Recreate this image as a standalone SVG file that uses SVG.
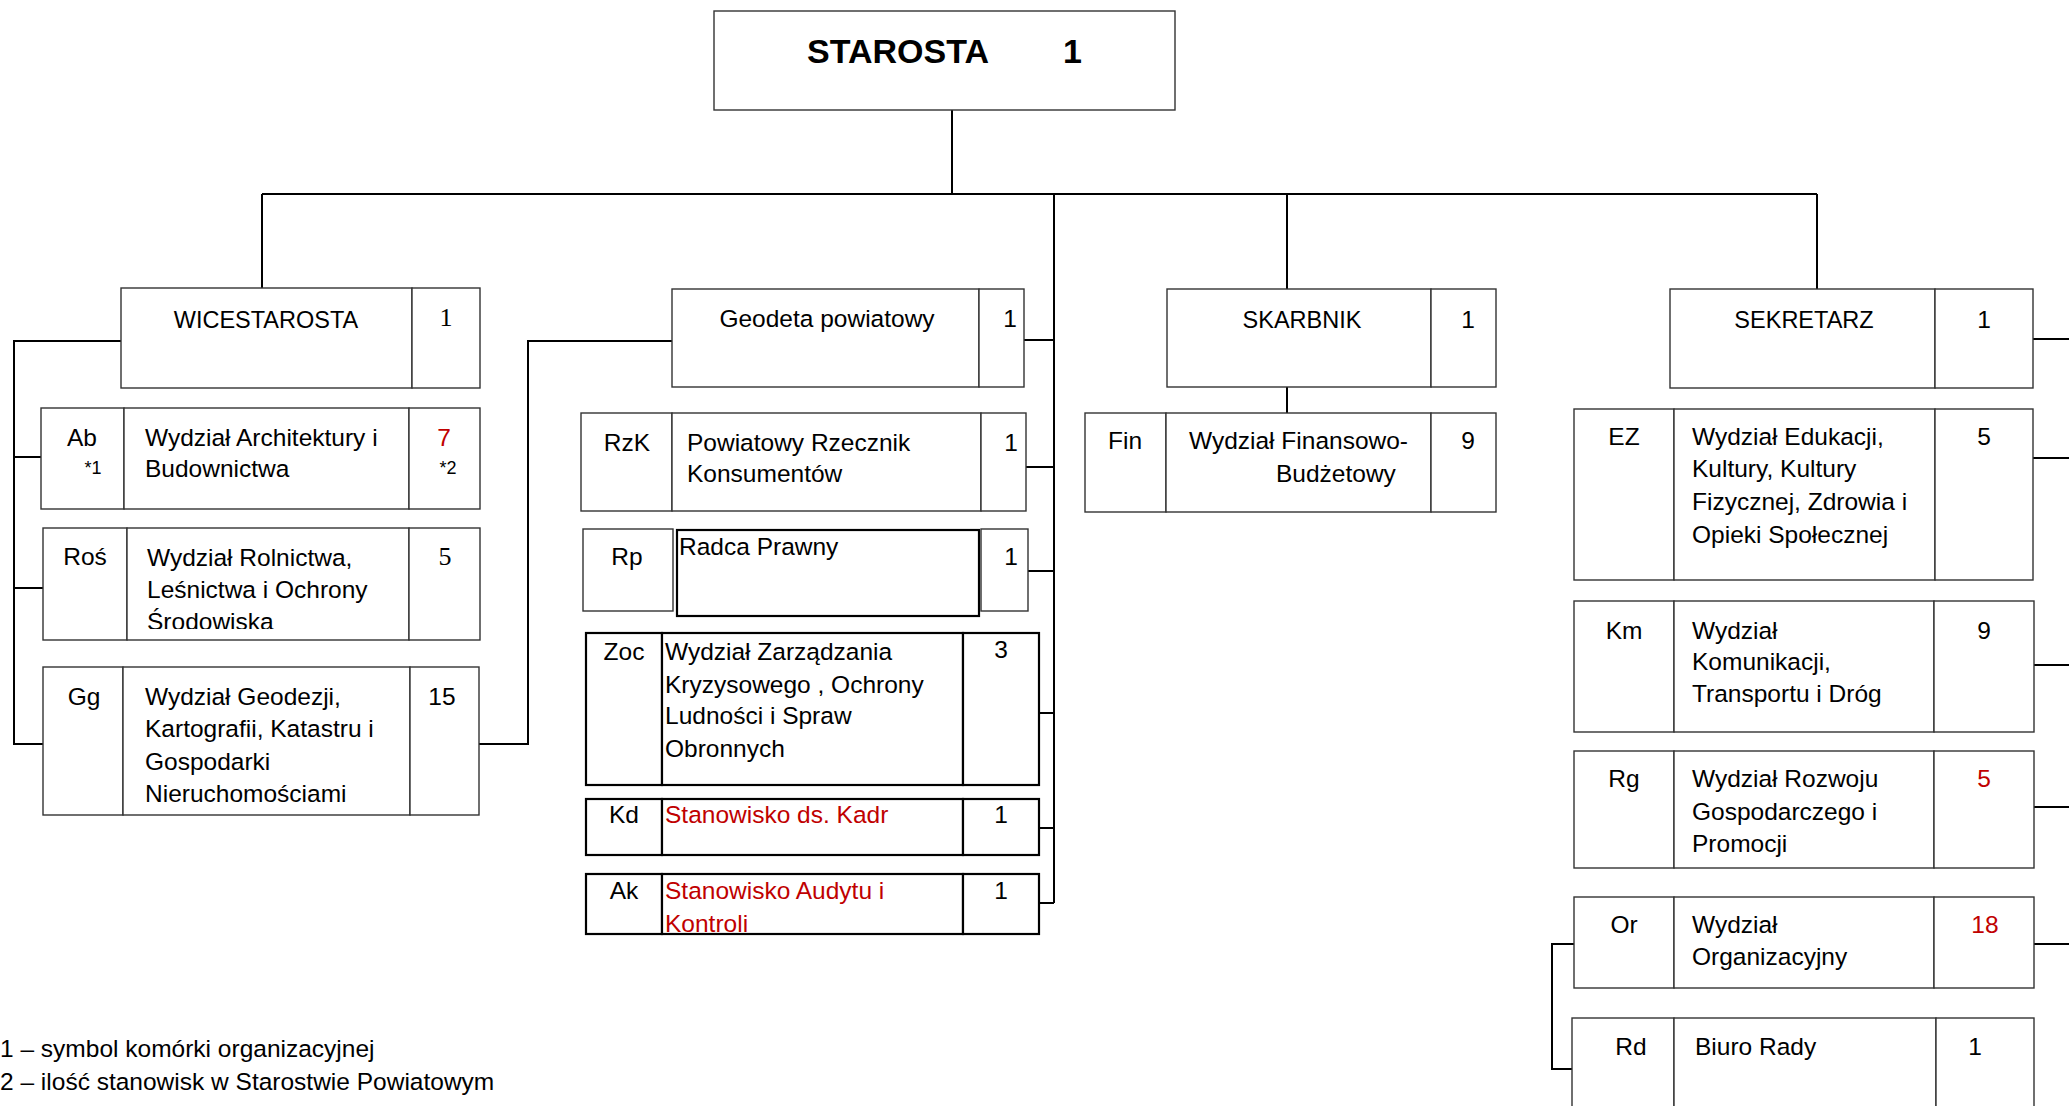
<svg xmlns="http://www.w3.org/2000/svg" width="2069" height="1106" viewBox="0 0 2069 1106">
<style>
text{font-family:"Liberation Sans",Arial,sans-serif;font-size:24.5px;fill:#000}
.c{text-anchor:middle}
.hd{font-size:23.5px}
.big{font-size:34px;font-weight:bold}
.sr{font-family:"Liberation Serif","Times New Roman",serif;font-size:26px}
.red{fill:#c00000}
.sm{font-size:18px}
.box{fill:#fff;stroke:#333;stroke-width:1.4}
.tb{fill:#fff;stroke:#000;stroke-width:2.2}
.con{fill:none;stroke:#000;stroke-width:2}
</style>
<defs>
<clipPath id="clipRos"><rect x="127" y="528" width="282" height="101"/></clipPath>
<clipPath id="clipAk"><rect x="662" y="874" width="301" height="58"/></clipPath>
</defs>
<rect width="2069" height="1106" fill="#fff"/>

<g id="connectors">
<path class="con" d="M952 110V194M262 194H1817M262 194V288M1054 194V903M1287 194V289M1287 387V413M1817 194V289"/>
<path class="con" d="M121 341H14V744H43M14 457H41M14 588H43"/>
<path class="con" d="M479 744H528V341H672"/>
<path class="con" d="M1024 340H1054M1026 467H1054M1028 571H1054M1039 713H1054M1039 828H1054M1039 903H1054"/>
<path class="con" d="M2033 339H2069M2033 458H2069M2034 665H2069M2034 807H2069M2034 944H2069"/>
<path class="con" d="M1574 944H1552V1069H1572"/>
</g>

<g id="starosta">
<rect class="box" x="714" y="11" width="461" height="99"/>
<text class="big" x="807" y="63">STAROSTA</text>
<text class="big" x="1063" y="63">1</text>
</g>

<g id="wicestarosta">
<rect class="box" x="121" y="288" width="291" height="100"/>
<rect class="box" x="412" y="288" width="68" height="100"/>
<text class="c hd" x="266" y="328">WICESTAROSTA</text>
<text class="c sr" x="446" y="326">1</text>
</g>

<g id="ab">
<rect class="box" x="41" y="408" width="83" height="101"/>
<rect class="box" x="124" y="408" width="285" height="101"/>
<rect class="box" x="409" y="408" width="71" height="101"/>
<text class="c" x="82" y="446">Ab</text>
<text class="c sm" x="93" y="474">*1</text>
<text x="145" y="446">Wydział Architektury i</text>
<text x="145" y="477">Budownictwa</text>
<text class="c red" x="444" y="446">7</text>
<text class="c sm" x="448" y="474">*2</text>
</g>

<g id="ros">
<rect class="box" x="43" y="528" width="84" height="112"/>
<rect class="box" x="127" y="528" width="282" height="112"/>
<rect class="box" x="409" y="528" width="71" height="112"/>
<text class="c" x="85" y="565">Roś</text>
<g clip-path="url(#clipRos)">
<text x="147" y="566">Wydział Rolnictwa,</text>
<text x="147" y="598">Leśnictwa i Ochrony</text>
<text x="147" y="630">Środowiska</text>
</g>
<text class="c sr" x="445" y="565">5</text>
</g>

<g id="gg">
<rect class="box" x="43" y="667" width="80" height="148"/>
<rect class="box" x="123" y="667" width="287" height="148"/>
<rect class="box" x="410" y="667" width="69" height="148"/>
<text class="c" x="84" y="705">Gg</text>
<text x="145" y="705">Wydział Geodezji,</text>
<text x="145" y="737">Kartografii, Katastru i</text>
<text x="145" y="770">Gospodarki</text>
<text x="145" y="802">Nieruchomościami</text>
<text class="c" x="442" y="705">15</text>
</g>

<g id="geodeta">
<rect class="box" x="672" y="289" width="307" height="98"/>
<rect class="box" x="979" y="289" width="45" height="98"/>
<text class="c" x="827" y="327">Geodeta powiatowy</text>
<text class="c" x="1010" y="327">1</text>
</g>

<g id="rzk">
<rect class="box" x="581" y="413" width="91" height="98"/>
<rect class="box" x="672" y="413" width="309" height="98"/>
<rect class="box" x="981" y="413" width="45" height="98"/>
<text class="c" x="627" y="451">RzK</text>
<text x="687" y="451">Powiatowy Rzecznik</text>
<text x="687" y="482">Konsumentów</text>
<text class="c" x="1011" y="451">1</text>
</g>

<g id="rp">
<rect class="box" x="583" y="529" width="90" height="82"/>
<rect class="tb" x="677" y="530" width="302" height="86"/>
<rect class="box" x="981" y="529" width="47" height="82"/>
<text class="c" x="627" y="565">Rp</text>
<text x="679" y="555">Radca Prawny</text>
<text class="c" x="1011" y="565">1</text>
</g>

<g id="zoc">
<rect class="tb" x="586" y="633" width="76" height="152"/>
<rect class="tb" x="662" y="633" width="301" height="152"/>
<rect class="tb" x="963" y="633" width="76" height="152"/>
<text class="c" x="624" y="660">Zoc</text>
<text x="665" y="660">Wydział Zarządzania</text>
<text x="665" y="693">Kryzysowego , Ochrony</text>
<text x="665" y="724">Ludności i Spraw</text>
<text x="665" y="757">Obronnych</text>
<text class="c" x="1001" y="658">3</text>
</g>

<g id="kd">
<rect class="tb" x="586" y="799" width="76" height="56"/>
<rect class="tb" x="662" y="799" width="301" height="56"/>
<rect class="tb" x="963" y="799" width="76" height="56"/>
<text class="c" x="624" y="823">Kd</text>
<text class="red" x="665" y="823">Stanowisko ds. Kadr</text>
<text class="c" x="1001" y="823">1</text>
</g>

<g id="ak">
<rect class="tb" x="586" y="874" width="76" height="60"/>
<rect class="tb" x="662" y="874" width="301" height="60"/>
<rect class="tb" x="963" y="874" width="76" height="60"/>
<text class="c" x="624" y="899">Ak</text>
<g clip-path="url(#clipAk)">
<text class="red" x="665" y="899">Stanowisko Audytu i</text>
<text class="red" x="665" y="932">Kontroli</text>
</g>
<text class="c" x="1001" y="899">1</text>
</g>

<g id="skarbnik">
<rect class="box" x="1167" y="289" width="264" height="98"/>
<rect class="box" x="1431" y="289" width="65" height="98"/>
<text class="c hd" x="1302" y="328">SKARBNIK</text>
<text class="c" x="1468" y="328">1</text>
</g>

<g id="fin">
<rect class="box" x="1085" y="413" width="81" height="99"/>
<rect class="box" x="1166" y="413" width="265" height="99"/>
<rect class="box" x="1431" y="413" width="65" height="99"/>
<text class="c" x="1125" y="449">Fin</text>
<text x="1189" y="449">Wydział Finansowo-</text>
<text x="1276" y="482">Budżetowy</text>
<text class="c" x="1468" y="449">9</text>
</g>

<g id="sekretarz">
<rect class="box" x="1670" y="289" width="265" height="99"/>
<rect class="box" x="1935" y="289" width="98" height="99"/>
<text class="c hd" x="1804" y="328">SEKRETARZ</text>
<text class="c" x="1984" y="328">1</text>
</g>

<g id="ez">
<rect class="box" x="1574" y="409" width="100" height="171"/>
<rect class="box" x="1674" y="409" width="261" height="171"/>
<rect class="box" x="1935" y="409" width="98" height="171"/>
<text class="c" x="1624" y="445">EZ</text>
<text x="1692" y="445">Wydział Edukacji,</text>
<text x="1692" y="477">Kultury, Kultury</text>
<text x="1692" y="510">Fizycznej, Zdrowia i</text>
<text x="1692" y="543">Opieki Społecznej</text>
<text class="c" x="1984" y="445">5</text>
</g>

<g id="km">
<rect class="box" x="1574" y="601" width="100" height="131"/>
<rect class="box" x="1674" y="601" width="260" height="131"/>
<rect class="box" x="1934" y="601" width="100" height="131"/>
<text class="c" x="1624" y="639">Km</text>
<text x="1692" y="639">Wydział</text>
<text x="1692" y="670">Komunikacji,</text>
<text x="1692" y="702">Transportu i Dróg</text>
<text class="c" x="1984" y="639">9</text>
</g>

<g id="rg">
<rect class="box" x="1574" y="751" width="100" height="117"/>
<rect class="box" x="1674" y="751" width="260" height="117"/>
<rect class="box" x="1934" y="751" width="100" height="117"/>
<text class="c" x="1624" y="787">Rg</text>
<text x="1692" y="787">Wydział Rozwoju</text>
<text x="1692" y="820">Gospodarczego i</text>
<text x="1692" y="852">Promocji</text>
<text class="c red" x="1984" y="787">5</text>
</g>

<g id="or">
<rect class="box" x="1574" y="897" width="100" height="91"/>
<rect class="box" x="1674" y="897" width="260" height="91"/>
<rect class="box" x="1934" y="897" width="100" height="91"/>
<text class="c" x="1624" y="933">Or</text>
<text x="1692" y="933">Wydział</text>
<text x="1692" y="965">Organizacyjny</text>
<text class="c red" x="1985" y="933">18</text>
</g>

<g id="rd">
<rect class="box" x="1572" y="1018" width="102" height="110"/>
<rect class="box" x="1674" y="1018" width="262" height="110"/>
<rect class="box" x="1936" y="1018" width="98" height="110"/>
<text class="c" x="1631" y="1055">Rd</text>
<text x="1695" y="1055">Biuro Rady</text>
<text class="c" x="1975" y="1055">1</text>
</g>

<g id="legend">
<text x="0" y="1057">1 – symbol komórki organizacyjnej</text>
<text x="0" y="1090">2 – ilość stanowisk w Starostwie Powiatowym</text>
</g>
</svg>
